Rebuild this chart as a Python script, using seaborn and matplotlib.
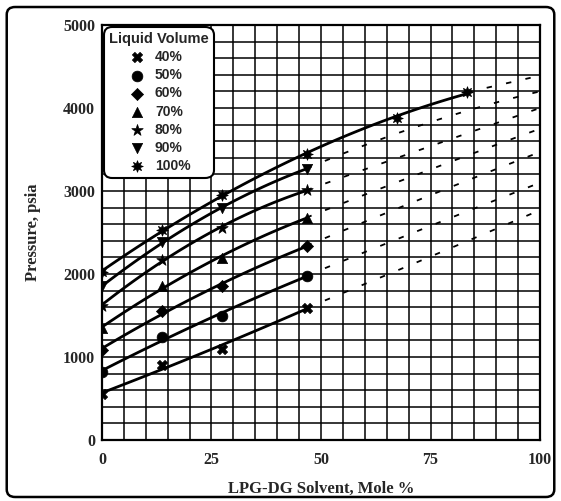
import numpy as np
import pandas as pd
import matplotlib
matplotlib.use("Agg")
import matplotlib.pyplot as plt
import seaborn as sns
from matplotlib.patches import FancyBboxPatch

# ---------------- data ----------------
volumes = ["40%", "50%", "60%", "70%", "80%", "90%", "100%"]
x_meas = [0, 13.6, 27.3, 46.7]
p40 = [550, 900, 1100, 1590]
p50 = [820, 1240, 1490, 1980]
p60 = [1090, 1550, 1850, 2340]
p70 = [1350, 1850, 2190, 2680]
p80 = [1620, 2170, 2550, 3010]
p90 = [1850, 2380, 2790, 3270]
x100 = [0, 13.6, 27.3, 46.7, 67.4, 83.4]
p100 = [2020, 2530, 2950, 3450, 3880, 4190]

# dashed extrapolations
x_ext = [46.7, 75, 100]
e40 = [1590, 2210, 2770]
e50 = [1980, 2580, 3100]
e60 = [2340, 2950, 3470]
e70 = [2680, 3260, 3750]
e80 = [3010, 3540, 4000]
e90 = [3270, 3830, 4200]
x_ext100 = [83.4, 100]
e100 = [4190, 4390]

x_ticks = [0, 25, 50, 75, 100]
y_ticks = [0, 1000, 2000, 3000, 4000, 5000]

marker_map = {"40%": "X", "50%": "o", "60%": "D", "70%": "^",
              "80%": "*", "90%": "v", "100%": (8, 1, 0)}
size_map = {"40%": 55, "50%": 60, "60%": 38, "70%": 55,
            "80%": 75, "90%": 55, "100%": 70}

meas = {"40%": (x_meas, p40), "50%": (x_meas, p50), "60%": (x_meas, p60),
        "70%": (x_meas, p70), "80%": (x_meas, p80), "90%": (x_meas, p90),
        "100%": (x100, p100)}
ext = {"40%": (x_ext, e40), "50%": (x_ext, e50), "60%": (x_ext, e60),
       "70%": (x_ext, e70), "80%": (x_ext, e80), "90%": (x_ext, e90),
       "100%": (x_ext100, e100)}

rows = []
for v in volumes:
    xs, ps = meas[v]
    for a, b in zip(xs, ps):
        rows.append({"x": a, "p": b, "vol": v})
df = pd.DataFrame(rows)

# ---------------- figure ----------------
sns.set_style("white")
plt.rcParams["font.family"] = ["Liberation Serif", "DejaVu Serif"]

fig = plt.figure(figsize=(5.61, 5.01), dpi=100)
ax = fig.add_axes([0.1818, 0.1218, 0.7808, 0.8283])

# smooth solid curves through measured points
for v in volumes:
    xs, ps = meas[v]
    sns.regplot(x=np.array(xs, float), y=np.array(ps, float), ax=ax,
                order=2, ci=None, scatter=False, truncate=True,
                line_kws=dict(color="black", lw=2.0, zorder=3))
# dashed extensions
for v in volumes:
    xs, ps = ext[v]
    order = 2 if len(xs) > 2 else 1
    sns.regplot(x=np.array(xs, float), y=np.array(ps, float), ax=ax,
                order=order, ci=None, scatter=False, truncate=True,
                line_kws=dict(color="black", lw=1.3, zorder=3,
                              linestyle=(0, (3, 8))))

# markers
for v in volumes:
    sub = df[df["vol"] == v]
    sns.scatterplot(data=sub, x="x", y="p", ax=ax, marker=marker_map[v],
                    s=size_map[v], color="black", edgecolor="black",
                    linewidth=0.5, zorder=4, label=v, legend=True)

ax.set_xlim(0, 100)
ax.set_ylim(0, 5000)
ax.set_xticks(x_ticks)
ax.set_yticks(y_ticks)
ax.set_xticks(np.arange(0, 101, 5), minor=True)
ax.set_yticks(np.arange(0, 5001, 200), minor=True)
ax.grid(True, which="both", color="black", lw=1.1)
ax.set_axisbelow(True)
for s in ax.spines.values():
    s.set_color("black")
    s.set_linewidth(1.6)
ax.tick_params(which="both", length=0)
ax.tick_params(axis="x", pad=9)
ax.tick_params(axis="y", pad=5)
for lab in ax.get_xticklabels() + ax.get_yticklabels():
    lab.set_fontweight("bold")
    lab.set_fontsize(11.5)

ax.set_xlabel("LPG-DG Solvent, Mole %", fontsize=12, fontweight="bold",
              labelpad=9)
ax.set_ylabel("Pressure, psia", fontsize=12, fontweight="bold",
              labelpad=16)

handles, labels = ax.get_legend_handles_labels()
leg = ax.legend(handles, labels, title="Liquid Volume", loc="upper left",
                bbox_to_anchor=(0.0, 1.0), borderaxespad=0.15,
                frameon=True, fancybox=True, framealpha=1, edgecolor="black",
                prop={"family": ["Liberation Sans", "DejaVu Sans"],
                      "weight": "bold", "size": 10},
                labelspacing=0.3, handletextpad=0.6, borderpad=0.35,
                handlelength=1.4)
leg.get_title().set_fontproperties(
    {"family": ["Liberation Sans", "DejaVu Sans"], "weight": "bold", "size": 10.5})
leg.get_frame().set_linewidth(1.5)
leg.get_frame().set_boxstyle("round,pad=0,rounding_size=0.6")
leg.set_zorder(10)

# figure border
border = FancyBboxPatch((0.012, 0.008), 0.976, 0.978,
                        boxstyle="round,pad=0,rounding_size=0.015",
                        transform=fig.transFigure, fill=False,
                        edgecolor="black", linewidth=1.8)
fig.patches.append(border)

fig.savefig("out.png", dpi=100)
